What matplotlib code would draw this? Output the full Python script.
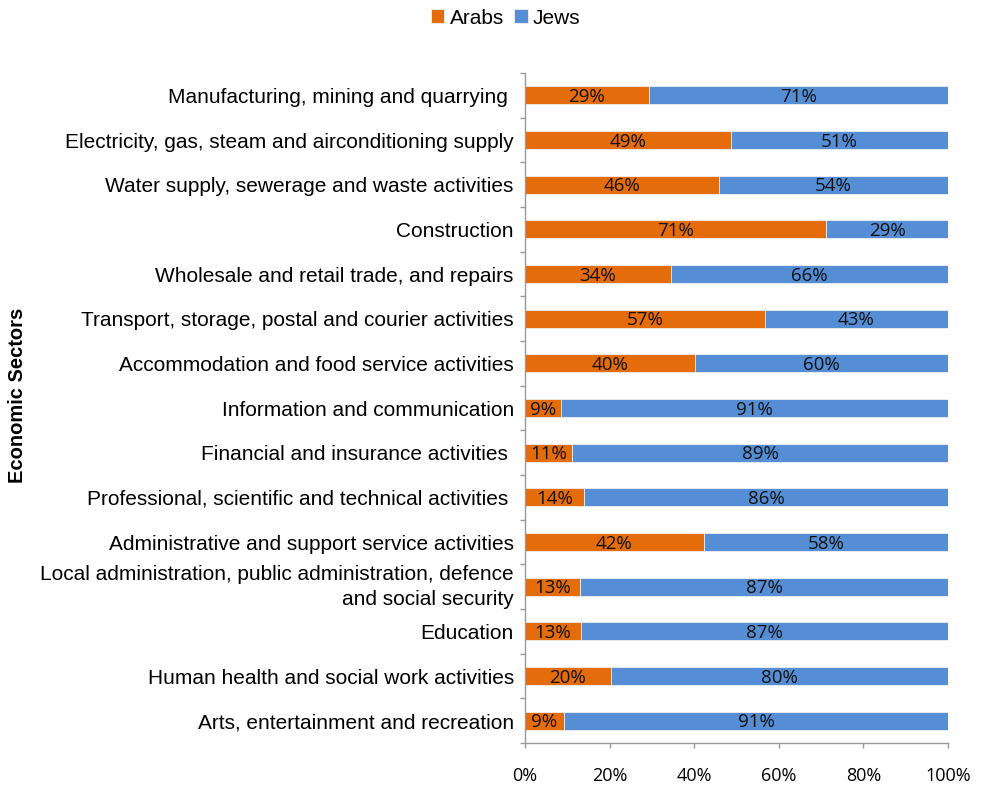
import numpy as np
import matplotlib.pyplot as plt
from matplotlib.ticker import FixedLocator, NullFormatter

sectors = [
    "Manufacturing, mining and quarrying ",
    "Electricity, gas, steam and airconditioning supply",
    "Water supply, sewerage and waste activities",
    "Construction",
    "Wholesale and retail trade, and repairs",
    "Transport, storage, postal and courier activities",
    "Accommodation and food service activities",
    "Information and communication",
    "Financial and insurance activities ",
    "Professional, scientific and technical activities ",
    "Administrative and support service activities",
    "Local administration, public administration, defence\nand social security",
    "Education",
    "Human health and social work activities",
    "Arts, entertainment and recreation",
]
arabs = np.array([29.3, 48.6, 45.9, 71.2, 34.4, 56.7, 40.2, 8.6, 11.1, 13.9,
                  42.3, 13.0, 13.2, 20.3, 9.2])
jews = 100 - arabs

c_arab = "#E46C0A"
c_jew = "#558ED5"

plt.rcParams['font.family'] = ['Liberation Sans', 'DejaVu Sans']

fig = plt.figure(figsize=(9.82, 7.85), dpi=100)
ax = fig.add_axes([0.5346, 0.0535, 0.4308, 0.8535])

y = np.arange(len(sectors))
b1 = ax.barh(y, arabs, height=0.4, color=c_arab, edgecolor="#f0f0f0", linewidth=0.6, label="Arabs")
b2 = ax.barh(y, jews, left=arabs, height=0.4, color=c_jew, edgecolor="#f0f0f0", linewidth=0.6, label="Jews")

for i in range(len(sectors)):
    ax.text(arabs[i] / 2, y[i] + 0.04, f"{round(arabs[i])}%", ha="center", va="center",
            fontsize=13.5, family="Open Sans", color="#111111")
    ax.text(arabs[i] + jews[i] / 2, y[i] + 0.04, f"{round(jews[i])}%", ha="center", va="center",
            fontsize=13.5, family="Open Sans", color="#111111")

ax.set_xlim(0, 100)
ax.set_ylim(len(sectors) - 0.5, -0.5)

# category labels centred, tick marks between categories
ax.yaxis.set_major_locator(FixedLocator(np.arange(-0.5, len(sectors), 1)))
ax.yaxis.set_major_formatter(NullFormatter())
ax.yaxis.set_minor_locator(FixedLocator(y))
ax.set_yticklabels(sectors, minor=True, fontsize=15, ha="right", linespacing=1.4)
for lbl in ax.get_yticklabels(minor=True):
    if "\n" in lbl.get_text():
        lbl.set_va("center")
ax.tick_params(axis="y", which="major", length=3.6, color="#999999", width=1)
ax.tick_params(axis="y", which="minor", length=0, pad=8)

ax.set_xticks(np.arange(0, 101, 20))
ax.set_xticklabels([f"{v}%" for v in range(0, 101, 20)], family="Open Sans", fontsize=13)
ax.tick_params(axis="x", length=3.6, color="#999999", width=1, pad=14)

for s in ["top", "right"]:
    ax.spines[s].set_visible(False)
for s in ["left", "bottom"]:
    ax.spines[s].set_color("#999999")
    ax.spines[s].set_linewidth(1)

fig.text(18 / 982, 1 - 395 / 785, "Economic Sectors", rotation=90, ha="center", va="center",
         fontsize=14.5, fontweight="bold")

fig.legend(handles=[b1, b2], loc="center", bbox_to_anchor=(0.515, 1 - 18 / 785), ncol=2,
           frameon=False, fontsize=15, handlelength=0.65, handleheight=0.65,
           handletextpad=0.25, columnspacing=0.5, borderpad=0)

fig.savefig("out.png", dpi=100)
